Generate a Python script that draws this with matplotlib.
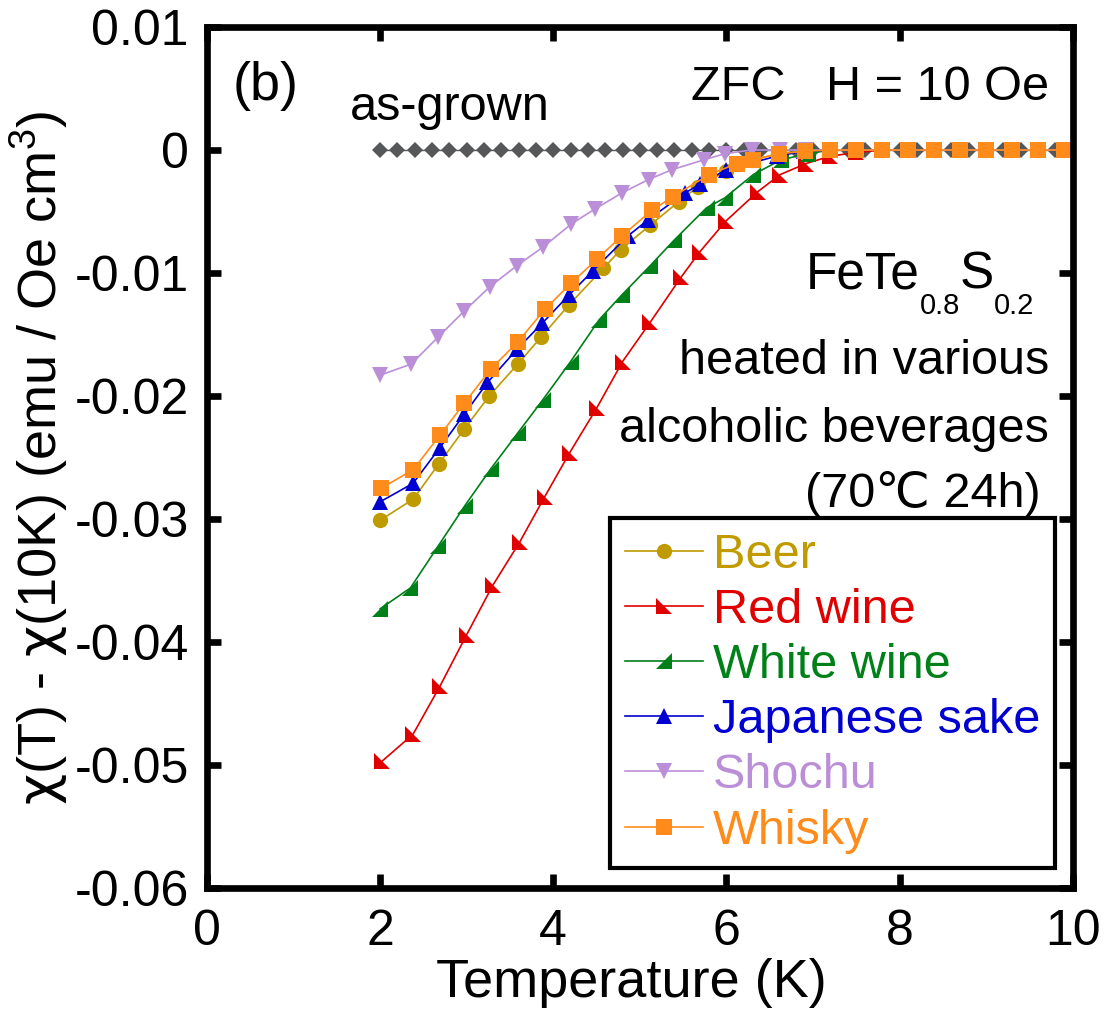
import matplotlib
matplotlib.use("Agg")
import matplotlib.pyplot as plt
from matplotlib.path import Path

plt.rcParams['font.family'] = ['Liberation Sans', 'DejaVu Sans']
plt.rcParams['mathtext.fontset'] = 'custom'
plt.rcParams['mathtext.rm'] = 'Liberation Sans'
plt.rcParams['mathtext.it'] = 'Liberation Sans:italic'
plt.rcParams['mathtext.bf'] = 'Liberation Sans:bold'
plt.rcParams['mathtext.sf'] = 'DejaVu Sans'

# ---- data ----
tail_T = [7.2, 7.5, 7.8, 8.1, 8.4, 8.7, 9.0, 9.3, 9.6, 9.9]
tail_chi = [0.0, 0.0, 0.0, 0.0, 0.0, 0.0, 0.0, 0.0, 0.0, 0.0]

asgrown_T = [2.0, 2.2, 2.4, 2.6, 2.8, 3.0, 3.2, 3.4, 3.6, 3.8,
             4.0, 4.2, 4.4, 4.6, 4.8, 5.0, 5.2, 5.4, 5.6, 5.8,
             6.0, 6.2, 6.4, 6.6, 6.8, 7.0, 7.2, 7.4, 7.6, 7.8,
             8.0, 8.2, 8.4, 8.6, 8.8, 9.0, 9.2, 9.4, 9.6, 9.8]
asgrown_chi = [0.0] * len(asgrown_T)

beer_T = [2.0, 2.38, 2.68, 2.97, 3.26, 3.59, 3.86, 4.18, 4.58, 4.78,
          5.12, 5.45, 5.67, 6.0, 6.3, 6.6, 6.9] + tail_T
beer_chi = [-0.0301, -0.0284, -0.0255, -0.0227, -0.0200, -0.0174, -0.0152,
            -0.0126, -0.0096, -0.0081, -0.0061, -0.0042, -0.0030, -0.0017,
            -0.0008, -0.0003, -0.0001] + tail_chi

red_T = [2.02, 2.38, 2.69, 3.0, 3.3, 3.61, 3.9, 4.19, 4.5, 4.8,
         5.12, 5.48, 5.69, 5.99, 6.36, 6.62, 6.92] + tail_T
red_chi = [-0.0497, -0.0475, -0.0436, -0.0394, -0.0354, -0.0319, -0.0282,
           -0.0246, -0.0210, -0.0172, -0.0140, -0.0103, -0.0083, -0.0058,
           -0.0034, -0.0020, -0.0011] + [-0.0005, -0.0002] + tail_chi[2:]

white_T = [2.0, 2.35, 2.67, 2.98, 3.28, 3.59, 3.88, 4.2, 4.53, 4.79,
           5.12, 5.4, 5.77, 5.98, 6.31, 6.63, 6.94] + tail_T
white_chi = [-0.0373, -0.0356, -0.0322, -0.0289, -0.0259, -0.0230, -0.0203,
             -0.0172, -0.0138, -0.0118, -0.0094, -0.0073, -0.0047, -0.0039,
             -0.0020, -0.0008, -0.0003] + tail_chi

sake_T = [2.0, 2.38, 2.69, 2.97, 3.24, 3.58, 3.87, 4.18, 4.46, 4.86,
          5.09, 5.52, 5.69, 6.0, 6.58, 6.9] + tail_T
sake_chi = [-0.0286, -0.0271, -0.0242, -0.0215, -0.0189, -0.0162, -0.0141,
            -0.0118, -0.0098, -0.0070, -0.0057, -0.0035, -0.0028, -0.0016,
            -0.0005, -0.0001] + tail_chi

shochu_T = [2.0, 2.36, 2.67, 2.97, 3.27, 3.58, 3.88, 4.21, 4.48, 4.79,
            5.1, 5.37, 5.74, 5.98, 6.29, 6.62, 6.92] + tail_T
shochu_chi = [-0.0183, -0.0174, -0.0152, -0.0131, -0.0111, -0.0094, -0.0079,
              -0.0060, -0.0048, -0.0035, -0.0024, -0.0016, -0.0008, -0.0003,
              0.0, 0.0, 0.0] + tail_chi

whisky_T = [2.01, 2.38, 2.69, 2.97, 3.28, 3.59, 3.91, 4.21, 4.5, 4.79,
            5.14, 5.38, 5.8, 6.12, 6.31, 6.61, 6.91] + tail_T
whisky_chi = [-0.0275, -0.0260, -0.0232, -0.0206, -0.0178, -0.0156, -0.0129,
              -0.0108, -0.0089, -0.0070, -0.0049, -0.0038, -0.0020, -0.0011,
              -0.0008, -0.0003, -0.0001] + tail_chi

x_ticks = [0, 2, 4, 6, 8, 10]
y_ticks = [0.01, 0, -0.01, -0.02, -0.03, -0.04, -0.05, -0.06]
y_ticklabels = ["0.01", "0", "-0.01", "-0.02", "-0.03", "-0.04", "-0.05", "-0.06"]

# right-angle triangle markers
tri_ll = Path([(-1, 1), (-1, -1), (1, -1), (-1, 1)],
              [Path.MOVETO, Path.LINETO, Path.LINETO, Path.CLOSEPOLY])
tri_lr = Path([(1, 1), (1, -1), (-1, -1), (1, 1)],
              [Path.MOVETO, Path.LINETO, Path.LINETO, Path.CLOSEPOLY])

FS = 35        # annotations, legend
FS_TICK = 36
FS_LAB = 39

fig = plt.figure(figsize=(11.07, 10.27), dpi=100)
ax = fig.add_axes([0.187, 0.1353, 0.782, 0.8384])

ax.plot(asgrown_T, asgrown_chi, "-", color="#555759", lw=1.0,
        marker="D", ms=8, mew=0)

series = [
    ("Beer", beer_T, beer_chi, "#bf9b00", "o", 11),
    ("Red wine", red_T, red_chi, "#e00000", tri_ll, 11),
    ("White wine", white_T, white_chi, "#008018", tri_lr, 11),
    ("Japanese sake", sake_T, sake_chi, "#0000d0", "^", 11),
    ("Shochu", shochu_T, shochu_chi, "#bb8fd8", "v", 11),
    ("Whisky", whisky_T, whisky_chi, "#ff8c1a", "s", 12),
]
handles = []
for name, t, chi, col, mk, ms in series:
    h, = ax.plot(t, chi, "-", color=col, lw=1.2, marker=mk, ms=ms,
                 mew=0, label=name)
    handles.append(h)

ax.set_xlim(0, 10)
ax.set_ylim(-0.06, 0.01)
ax.set_xticks(x_ticks)
ax.set_xticklabels([str(v) for v in x_ticks])
ax.set_yticks(y_ticks)
ax.set_yticklabels(y_ticklabels)
ax.tick_params(direction="in", length=10, width=4.8, labelsize=FS_TICK,
               top=True, right=True)
ax.tick_params(axis="x", pad=15)
ax.tick_params(axis="y", pad=13)
for s in ax.spines.values():
    s.set_linewidth(4.8)

ax.set_xlabel("Temperature (K)", fontsize=FS_LAB)
ax.set_ylabel(r"$\mathsf{χ}$(T) - $\mathsf{χ}$(10K) (emu / Oe cm$^{3}$)",
              fontsize=FS_LAB)
ax.xaxis.set_label_coords(0.49, -0.081)
ax.yaxis.set_label_coords(-0.158, 0.5)

ax.text(0.30, 0.00407, "(b)", fontsize=39, ha="left", va="baseline")
ax.text(1.65, 0.00244, "as-grown", fontsize=FS, ha="left", va="baseline")
ax.text(9.73, 0.00407, "ZFC   H = 10 Oe", fontsize=FS, ha="right", va="baseline")
ax.text(9.73, -0.01822, "heated in various", fontsize=FS, ha="right", va="baseline")
ax.text(9.73, -0.02375, "alcoholic beverages", fontsize=FS, ha="right", va="baseline")
ax.text(9.63, -0.02900, "(70℃ 24h)", fontsize=FS, ha="right", va="baseline")

# FeTe0.8S0.2 with low, small subscripts; offsets in points from Arial-metric widths
chem_anchor = (9.56, -0.01122)
pieces = [("FeTe", 37, 2.334), ("0.8", 21, 1.39), ("S", 37, 0.667), ("0.2", 21, 1.39)]
x_off = 0.0
for txt, fs, em in reversed(pieces):
    dy = -19 if fs < 30 else 0
    ax.annotate(txt, xy=chem_anchor, xytext=(x_off, dy), textcoords="offset points",
                fontsize=fs, ha="right", va="baseline")
    x_off -= em * fs

leg = ax.legend(handles=handles, loc="lower right", bbox_to_anchor=(0.979, 0.023),
                borderaxespad=0, fontsize=FS, frameon=True, fancybox=False,
                framealpha=1, handlelength=1.6, handletextpad=0.2,
                labelspacing=0.21, borderpad=0.3, numpoints=1)
leg.get_frame().set_edgecolor("black")
leg.get_frame().set_linewidth(3.0)
for txt, (_, _, _, col, _, _) in zip(leg.get_texts(), series):
    txt.set_color(col)

fig.savefig("out.png", dpi=100)
